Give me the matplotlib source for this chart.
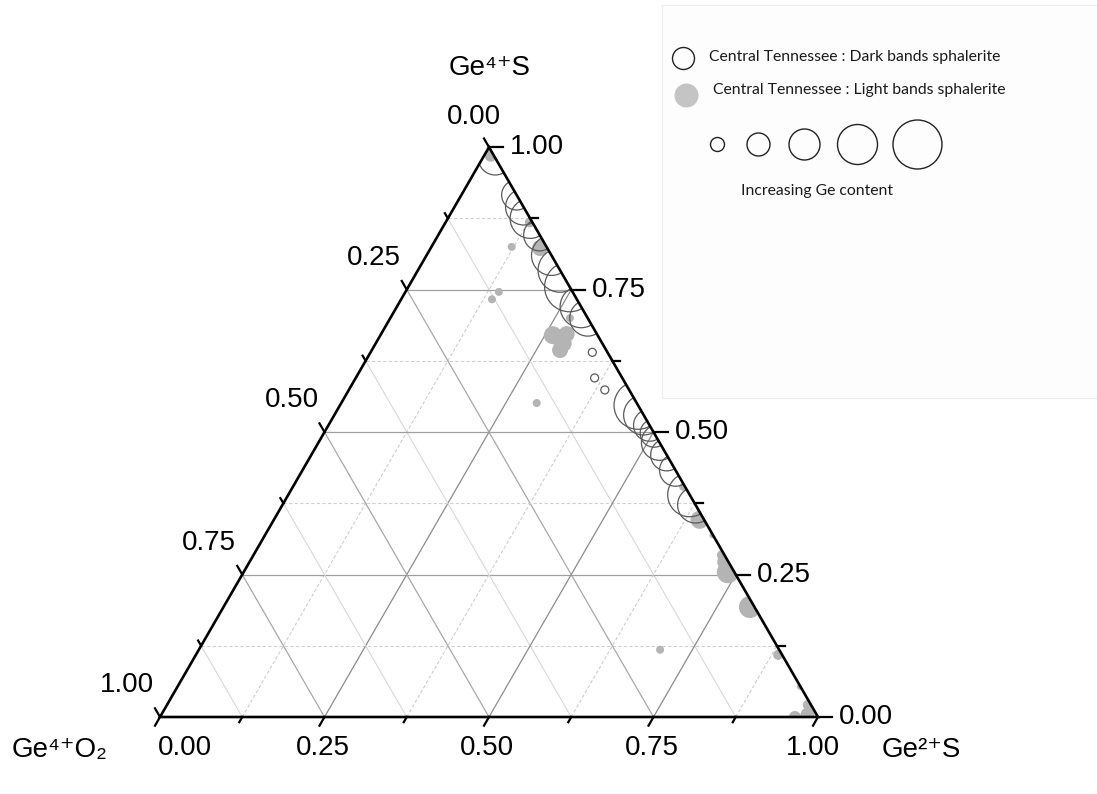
import numpy as np
import matplotlib
matplotlib.use('Agg')
import matplotlib.pyplot as plt
from matplotlib.patches import Polygon, Rectangle

# ternary components: a = Ge4+O2 (left), b = Ge2+S (right), c = Ge4+S (top)
# dark bands sphalerite (open circles); size = relative Ge content
dark_c = [0.981, 0.916, 0.895, 0.875, 0.846, 0.810, 0.784, 0.755, 0.720, 0.700,
          0.547, 0.530, 0.512, 0.498, 0.482, 0.460, 0.433, 0.390, 0.372,
          0.640, 0.595, 0.574]
dark_a = [0.0, 0.0, 0.0, 0.0, 0.0, 0.0, 0.0, 0.0, 0.0, 0.0,
          0.0, 0.0, 0.0, 0.0, 0.0, 0.0, 0.0, 0.0, 0.0,
          0.023, 0.042, 0.037]
dark_size = [17, 15, 18, 20, 16, 20, 22, 25, 21, 18,
             24, 20, 16, 14, 18, 16, 16, 22, 18,
             4, 4, 4]

# light bands sphalerite (filled circles)
light_c = [0.985, 0.825, 0.868, 0.823, 0.733, 0.746, 0.700, 0.670, 0.656, 0.672,
           0.644, 0.551, 0.404, 0.346, 0.319, 0.284, 0.272, 0.254, 0.193, 0.109,
           0.118, 0.053, 0.021, 0.000, 0.004]
light_a = [0.005, 0.053, 0.004, 0.011, 0.129, 0.112, 0.027, 0.068, 0.060, 0.046,
           0.070, 0.152, 0.003, 0.007, 0.001, 0.004, 0.005, 0.010, 0.007, 0.006,
           0.181, 0.001, 0.005, 0.035, 0.014]
light_size = [6, 4, 5, 8, 4, 4, 4, 9, 9, 8,
              8, 4, 4, 9, 3, 5, 8, 11, 11, 5,
              4, 3, 5, 6, 7]

tick_vals = [0.0, 0.25, 0.5, 0.75, 1.0]
tick_text = ['0.00', '0.25', '0.50', '0.75', '1.00']
legend_ladder = [7, 11.5, 15.5, 20, 24.5]

W, H = 1097, 794
SQ = np.sqrt(3) / 2
PX = 658.0  # triangle side in pixels


def tern(b, c):
    b = np.asarray(b, float)
    c = np.asarray(c, float)
    return b + c / 2, c * SQ


def fpx(xp, yp):
    return xp / W, 1 - yp / H


def area(r):
    return (2 * np.asarray(r, float) * 0.72) ** 2


plt.rcParams['font.family'] = ['Liberation Sans', 'DejaVu Sans']

fig = plt.figure(figsize=(W / 100, H / 100), dpi=100)
ax = fig.add_axes([0, 0, 1, 1])
ax.set_xlim(-160 / PX, (W - 160) / PX)
ax.set_ylim(-(H - 717) / PX, 717 / PX)
ax.axis('off')

# legend box
ax.add_patch(Rectangle(fpx(662, 398), (W - 662) / W, 393 / H,
                       transform=fig.transFigure, fc='#fdfdfd',
                       ec='#ececec', lw=0.8, zorder=0, clip_on=False))

# grid
for v in np.arange(0.125, 1.0, 0.125):
    major = abs(v * 4 - round(v * 4)) < 1e-9
    # constant c (horizontal)
    x, y = tern([0, 1 - v], [v, v])
    if major:
        ax.plot(x, y, color='#a0a0a0', lw=0.9, zorder=1)
    else:
        ax.plot(x, y, color='#d0d0d0', lw=0.8, ls=(0, (3, 2)), zorder=1)
    # constant b
    x, y = tern([v, v], [0, 1 - v])
    if major:
        ax.plot(x, y, color='#8c8c8c', lw=0.9, zorder=1)
    else:
        ax.plot(x, y, color='#cdcdcd', lw=0.8, ls=(0, (3, 2)), zorder=1)
    # constant a
    x, y = tern([1 - v, 0], [0, 1 - v])
    if major:
        ax.plot(x, y, color='#a8a8a8', lw=0.9, zorder=1)
    else:
        ax.plot(x, y, color='#d8d8d8', lw=0.8, zorder=1)

verts = np.array([tern(0, 0), tern(1, 0), tern(0, 1)])
clip = Polygon(verts, closed=True, transform=ax.transData)

# data
db = 1 - np.array(dark_c) - np.array(dark_a)
x, y = tern(db, dark_c)
sc = ax.scatter(x, y, s=area(dark_size), facecolors='none',
                edgecolors='#5a5a5a', linewidths=0.9, zorder=3)
sc.set_clip_path(clip)

lb = 1 - np.array(light_c) - np.array(light_a)
x, y = tern(lb, light_c)
sc2 = ax.scatter(x, y, s=area(light_size), facecolors='#b4b4b4',
                 edgecolors='none', zorder=2)
sc2.set_clip_path(clip)

ax.add_patch(Polygon(verts, closed=True, fill=False, ec='black', lw=1.9,
                     joinstyle='miter', zorder=5))

# ticks
for v in np.arange(0, 1.0001, 0.125):
    major = abs(v * 4 - round(v * 4)) < 1e-9
    L = (10 if major else 6) / PX
    # bottom (Ge2+S)
    x0, y0 = tern(v, 0)
    ax.plot([x0, x0 - 0.5 * L], [y0, y0 - SQ * L], color='black', lw=1.6,
            clip_on=False, zorder=5)
    # left (Ge4+O2)
    x0, y0 = tern(0, 1 - v)
    ax.plot([x0, x0 - 0.5 * L], [y0, y0 + SQ * L], color='black', lw=1.6,
            clip_on=False, zorder=5)
    # right (Ge4+S)
    Lr = (14 if major else 8) / PX
    x0, y0 = tern(1 - v, v)
    ax.plot([x0, x0 + Lr], [y0, y0], color='black', lw=1.6,
            clip_on=False, zorder=5)

fs = 20
for v, t in zip(tick_vals, tick_text):
    # bottom
    dx = 25 if v == 0 else (-5 if v == 1 else -2)
    ax.annotate(t, tern(v, 0), xytext=(dx, -31), textcoords='offset pixels',
                ha='center', va='center', fontsize=fs)
    # left
    off = (-15, 30) if v == 0 else (-33, 32)
    ax.annotate(t, tern(0, 1 - v), xytext=off, textcoords='offset pixels',
                ha='center', va='center', fontsize=fs)
    # right
    ax.annotate(t, tern(1 - v, v), xytext=(21, 0), textcoords='offset pixels',
                ha='left', va='center', fontsize=fs)

ax.text(*fpx(490, 68), 'Ge\u2074\u207aS', transform=fig.transFigure,
        ha='center', va='center', fontsize=fs)
ax.text(*fpx(60, 750), 'Ge\u2074\u207aO\u2082', transform=fig.transFigure,
        ha='center', va='center', fontsize=fs)
ax.text(*fpx(921, 750), 'Ge\u00b2\u207aS', transform=fig.transFigure,
        ha='center', va='center', fontsize=fs)

# legend
lf = dict(fontsize=11.3, family='Lato', va='center', color='#1a1a1a',
          transform=fig.transFigure)
ax.plot(*fpx(683, 58), marker='o', ms=22 * 0.72, mfc='none', mec='#222222',
        mew=1.0, transform=fig.transFigure, clip_on=False, zorder=6)
ax.text(*fpx(709, 57), 'Central Tennessee : Dark bands sphalerite', **lf)
ax.plot(*fpx(686, 95), marker='o', ms=24 * 0.72, mfc='#c4c4c4', mec='none',
        transform=fig.transFigure, clip_on=False, zorder=6)
ax.text(*fpx(713, 90), 'Central Tennessee : Light bands sphalerite', **lf)
xs = [717, 758, 804, 857, 917]
for xp, r in zip(xs, legend_ladder):
    ax.plot(*fpx(xp, 144), marker='o', ms=2 * r * 0.72, mfc='none',
            mec='#222222', mew=1.0, transform=fig.transFigure, clip_on=False,
            zorder=6)
ax.text(*fpx(817, 191), 'Increasing Ge content', ha='center', **lf)

fig.savefig('out.png', dpi=100)
